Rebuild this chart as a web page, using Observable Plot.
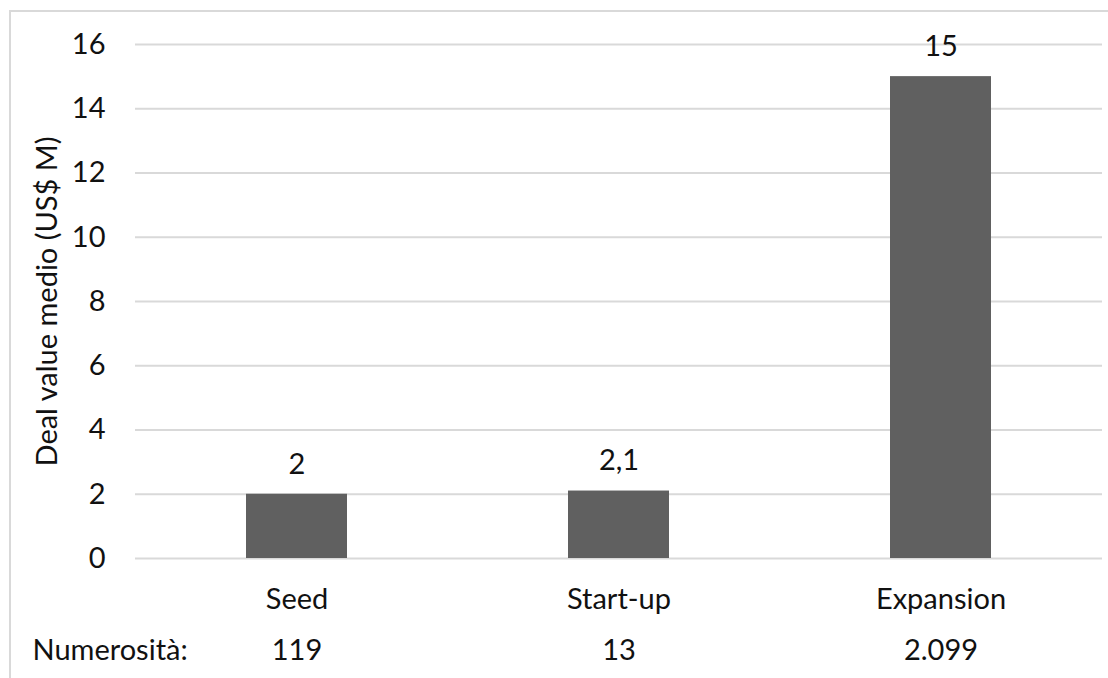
<!DOCTYPE html>
<html>
<head>
<meta charset="utf-8">
<script src="https://cdn.jsdelivr.net/npm/d3@7"></script>
<script src="https://cdn.jsdelivr.net/npm/@observablehq/plot@0.6"></script>
<style>
  html, body { margin: 0; padding: 0; background: #fff; overflow: hidden; }
  #wrap { position: relative; width: 1108px; height: 678px; }
  #wrap svg { position: absolute; left: 0; top: 0; }
  #box { position: absolute; left: 9px; top: 10px; width: 1200px; height: 800px;
         border: 2px solid #d9d9d9; box-sizing: border-box; pointer-events: none; }
</style>
</head>
<body>
<div id="wrap"><div id="box"></div></div>
<script>
// Deal stages, average deal value (US$ M) and number of deals per stage
const stages = ["Seed", "Start-up", "Expansion"];
const dealValues = [2, 2.1, 15];
const dealCounts = [119, 13, 2099];
const yTicks = [0, 2, 4, 6, 8, 10, 12, 14, 16];
const yLabel = "Deal value medio (US$ M)";
const countLabel = "Numerosità:";

const it = d3.formatLocale({decimal: ",", thousands: ".", grouping: [3], currency: ["", " €"]});
const fmtValue = it.format("~g");
const fmtCount = it.format(",d");

const rows = stages.map((s, i) => ({stage: s, value: dealValues[i], count: dealCounts[i]}));

const FONT = "Lato, 'Open Sans', sans-serif";
const FS = 29;
const INK = "#111";

const chart = Plot.plot({
  width: 1108,
  height: 678,
  marginLeft: 135,
  marginRight: 6,
  marginTop: 44,
  marginBottom: 120,
  style: {fontFamily: FONT, fontSize: FS + "px", color: INK, background: "transparent"},
  x: {domain: stages, paddingInner: 0.686, paddingOuter: 0.343, label: null},
  y: {domain: [0, 16], label: null},
  marks: [
    Plot.ruleY(yTicks, {stroke: "#d9d9d9", strokeWidth: 2}),
    Plot.barY(rows, {x: "stage", y: "value", fill: "#606060"}),
    Plot.text(rows, {x: "stage", y: "value", text: d => fmtValue(d.value), dy: -30, fill: INK, fontSize: FS}),
    Plot.axisY(yTicks, {tickSize: 0, tickPadding: 30, fontSize: FS, fill: INK, label: null}),
    Plot.axisX({tickSize: 0, tickPadding: 30, fontSize: FS, fill: INK, label: null}),
    // rotated axis title, centred on the plot's height
    Plot.text([yLabel], {frameAnchor: "left", textAnchor: "middle", rotate: -90, dx: -88, fontSize: FS, fill: INK}),
    // deal counts under each category
    Plot.text(rows, {x: "stage", frameAnchor: "bottom", text: d => fmtCount(d.count), dy: 101, fontSize: FS, fill: INK}),
    Plot.text([countLabel], {frameAnchor: "bottom-left", textAnchor: "start", dx: -103, dy: 101, fontSize: FS, fill: INK})
  ]
});

document.getElementById("wrap").prepend(chart);
</script>
</body>
</html>
